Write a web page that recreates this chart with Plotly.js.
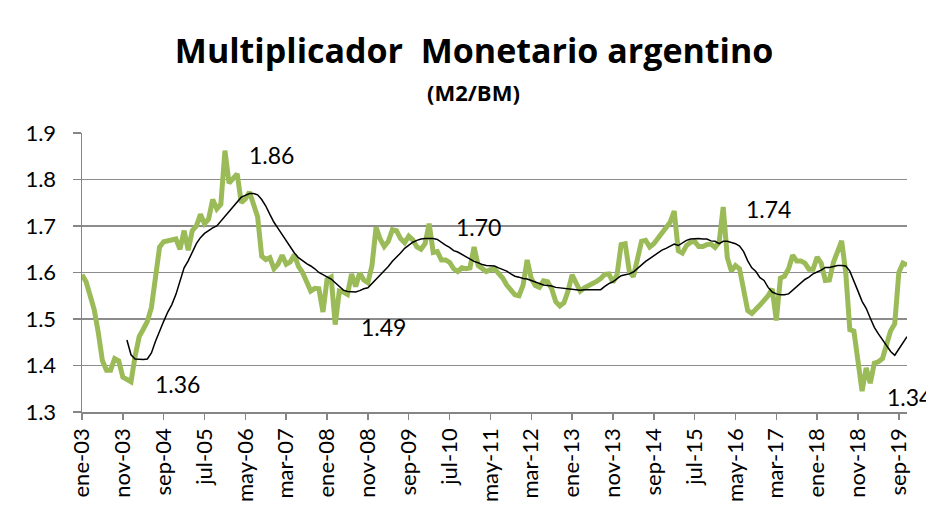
<!DOCTYPE html>
<html>
<head>
<meta charset="utf-8">
<script src="https://cdn.plot.ly/plotly-3.0.1.min.js"></script>
<style>html,body{margin:0;padding:0;background:#fff;}#chart{width:926px;height:508px;}</style>
</head>
<body>
<div id="chart"></div>
<script>
// Tick labels (every 10 months, starting ene-03)
const tickLabels = ["ene-03","nov-03","sep-04","jul-05","may-06","mar-07","ene-08","nov-08","sep-09","jul-10","may-11","mar-12","ene-13","nov-13","sep-14","jul-15","may-16","mar-17","ene-18","nov-18","sep-19"];

// Monthly money multiplier M2/BM, ene-03 .. nov-19
const multiplier = [
1.595,1.58,1.55,1.52,1.47,1.41,1.39,1.39,1.415,1.41,
1.375,1.37,1.365,1.42,1.462,1.478,1.495,1.525,1.595,1.655,
1.666,1.668,1.67,1.672,1.65,1.69,1.648,1.69,1.70,1.725,
1.705,1.715,1.757,1.737,1.747,1.862,1.792,1.803,1.812,1.75,
1.758,1.773,1.75,1.72,1.635,1.628,1.632,1.608,1.618,1.637,
1.618,1.623,1.638,1.613,1.60,1.58,1.56,1.566,1.565,1.515,
1.585,1.59,1.488,1.56,1.558,1.553,1.597,1.57,1.599,1.584,
1.578,1.615,1.697,1.672,1.656,1.667,1.692,1.69,1.673,1.664,
1.678,1.67,1.655,1.65,1.662,1.705,1.643,1.645,1.627,1.627,
1.622,1.608,1.602,1.61,1.608,1.61,1.655,1.615,1.608,1.602,
1.606,1.608,1.598,1.588,1.573,1.562,1.552,1.55,1.573,1.627,
1.587,1.572,1.568,1.582,1.58,1.565,1.537,1.528,1.535,1.56,
1.595,1.577,1.56,1.567,1.571,1.576,1.581,1.587,1.596,1.597,
1.579,1.595,1.66,1.662,1.603,1.591,1.625,1.667,1.669,1.655,
1.662,1.673,1.682,1.693,1.708,1.732,1.647,1.642,1.658,1.665,
1.667,1.656,1.656,1.66,1.661,1.654,1.665,1.741,1.632,1.603,
1.615,1.608,1.56,1.518,1.512,1.52,1.53,1.54,1.55,1.565,
1.497,1.588,1.592,1.608,1.637,1.625,1.625,1.62,1.607,1.607,
1.633,1.62,1.583,1.584,1.622,1.645,1.668,1.60,1.477,1.474,
1.40,1.345,1.395,1.362,1.405,1.408,1.415,1.445,1.475,1.49,
1.60,1.62,1.616
];

// 12-month moving average line, starting dic-03 (month index 11)
const maStart = 11;
const movingAvg = [
1.455,1.423,1.414,1.413,1.413,1.414,1.427,1.452,1.475,1.495,
1.515,1.531,1.553,1.582,1.61,1.625,1.645,1.662,1.675,1.684,
1.69,1.696,1.70,1.71,1.722,1.73,1.74,1.752,1.762,1.766,
1.77,1.77,1.767,1.757,1.743,1.725,1.708,1.695,1.682,1.668,
1.656,1.642,1.632,1.625,1.619,1.614,1.608,1.60,1.595,1.591,
1.586,1.578,1.569,1.562,1.559,1.558,1.558,1.561,1.565,1.567,
1.576,1.586,1.595,1.603,1.613,1.624,1.632,1.642,1.652,1.659,
1.665,1.669,1.672,1.673,1.673,1.673,1.671,1.664,1.659,1.654,
1.647,1.644,1.639,1.634,1.628,1.624,1.621,1.617,1.615,1.614,
1.614,1.61,1.607,1.603,1.597,1.592,1.59,1.587,1.586,1.583,
1.579,1.577,1.573,1.572,1.571,1.568,1.567,1.566,1.565,1.564,
1.563,1.562,1.563,1.563,1.563,1.563,1.563,1.57,1.576,1.58,
1.586,1.593,1.595,1.597,1.601,1.609,1.617,1.624,1.63,1.636,
1.642,1.648,1.652,1.657,1.661,1.658,1.664,1.669,1.672,1.673,
1.673,1.672,1.672,1.668,1.667,1.662,1.667,1.667,1.665,1.662,
1.657,1.645,1.625,1.61,1.602,1.589,1.583,1.568,1.558,1.554,
1.552,1.552,1.554,1.562,1.57,1.576,1.585,1.59,1.597,1.601,
1.605,1.611,1.611,1.613,1.615,1.615,1.614,1.603,1.583,1.56,
1.538,1.523,1.502,1.482,1.468,1.455,1.443,1.43,1.422,1.435,
1.449,1.462
];

// Value labels
const labelTexts = ["1.86","1.36","1.49","1.70","1.74","1.34"];
const labelX = [46.5, 23.3, 73.7, 97.0, 168.0, 196.7];
const labelY = [1.853, 1.361, 1.482, 1.697, 1.736, 1.333];
const labelAnchor = ["center","center","center","center","center","left"];

const xs = multiplier.map((_, i) => i);
const xsMA = movingAvg.map((_, i) => i + maStart);
const tickVals = tickLabels.map((_, k) => k * 10);

const FONT = "Lato, 'Open Sans', sans-serif";
const TFONT = "'Open Sans', Lato, sans-serif";

const traces = [
  {x: xs, y: multiplier, type: "scatter", mode: "lines",
   line: {color: "#9BBB59", width: 5}, hoverinfo: "skip", cliponaxis: false},
  {x: xsMA, y: movingAvg, type: "scatter", mode: "lines",
   line: {color: "#000000", width: 1.5}, hoverinfo: "skip", cliponaxis: false}
];

const annotations = labelTexts.map((t, k) => ({
  x: labelX[k], y: labelY[k], xref: "x", yref: "y", text: t, showarrow: false,
  xanchor: labelAnchor[k], yanchor: "middle",
  font: {family: FONT, size: 23, color: "#000"}
}));
annotations.push({
  x: 0.475, y: 1.148, xref: "paper", yref: "paper", text: "<b>(M2/BM)</b>", showarrow: false,
  xanchor: "center", yanchor: "middle", font: {family: TFONT, size: 22, color: "#000"}
});

const layout = {
  width: 926, height: 508,
  margin: {l: 82, r: 19, t: 133, b: 96, pad: 0},
  paper_bgcolor: "#ffffff", plot_bgcolor: "#ffffff",
  showlegend: false,
  title: {text: "<b>Multiplicador&nbsp; Monetario argentino</b>", x: 0.512, xanchor: "center",
          y: 0.9, yanchor: "middle", font: {family: TFONT, size: 34, color: "#000"}},
  xaxis: {range: [0, 202], tickmode: "array", tickvals: tickVals, ticktext: tickLabels,
          tickangle: -90, showgrid: false, zeroline: false, showline: true,
          linecolor: "#868686", linewidth: 1.5, ticks: "outside", ticklen: 6,
          tickcolor: "#868686", tickwidth: 1.5,
          tickfont: {family: FONT, size: 22, color: "#000"}},
  yaxis: {range: [1.3, 1.9], tickmode: "array", tickvals: [1.3,1.4,1.5,1.6,1.7,1.8,1.9],
          ticktext: ["1.3","1.4","1.5","1.6","1.7","1.8","1.9"],
          showgrid: true, gridcolor: "#8c8c8c", gridwidth: 1.5, zeroline: false,
          showline: true, linecolor: "#868686", linewidth: 1.5, ticks: "outside",
          ticklen: 8, tickcolor: "#868686", tickwidth: 1.5, ticklabelstandoff: 12,
          tickfont: {family: FONT, size: 22, color: "#000"}},
  annotations: annotations
};

Plotly.newPlot("chart", traces, layout, {staticPlot: true, displayModeBar: false});
</script>
</body>
</html>
